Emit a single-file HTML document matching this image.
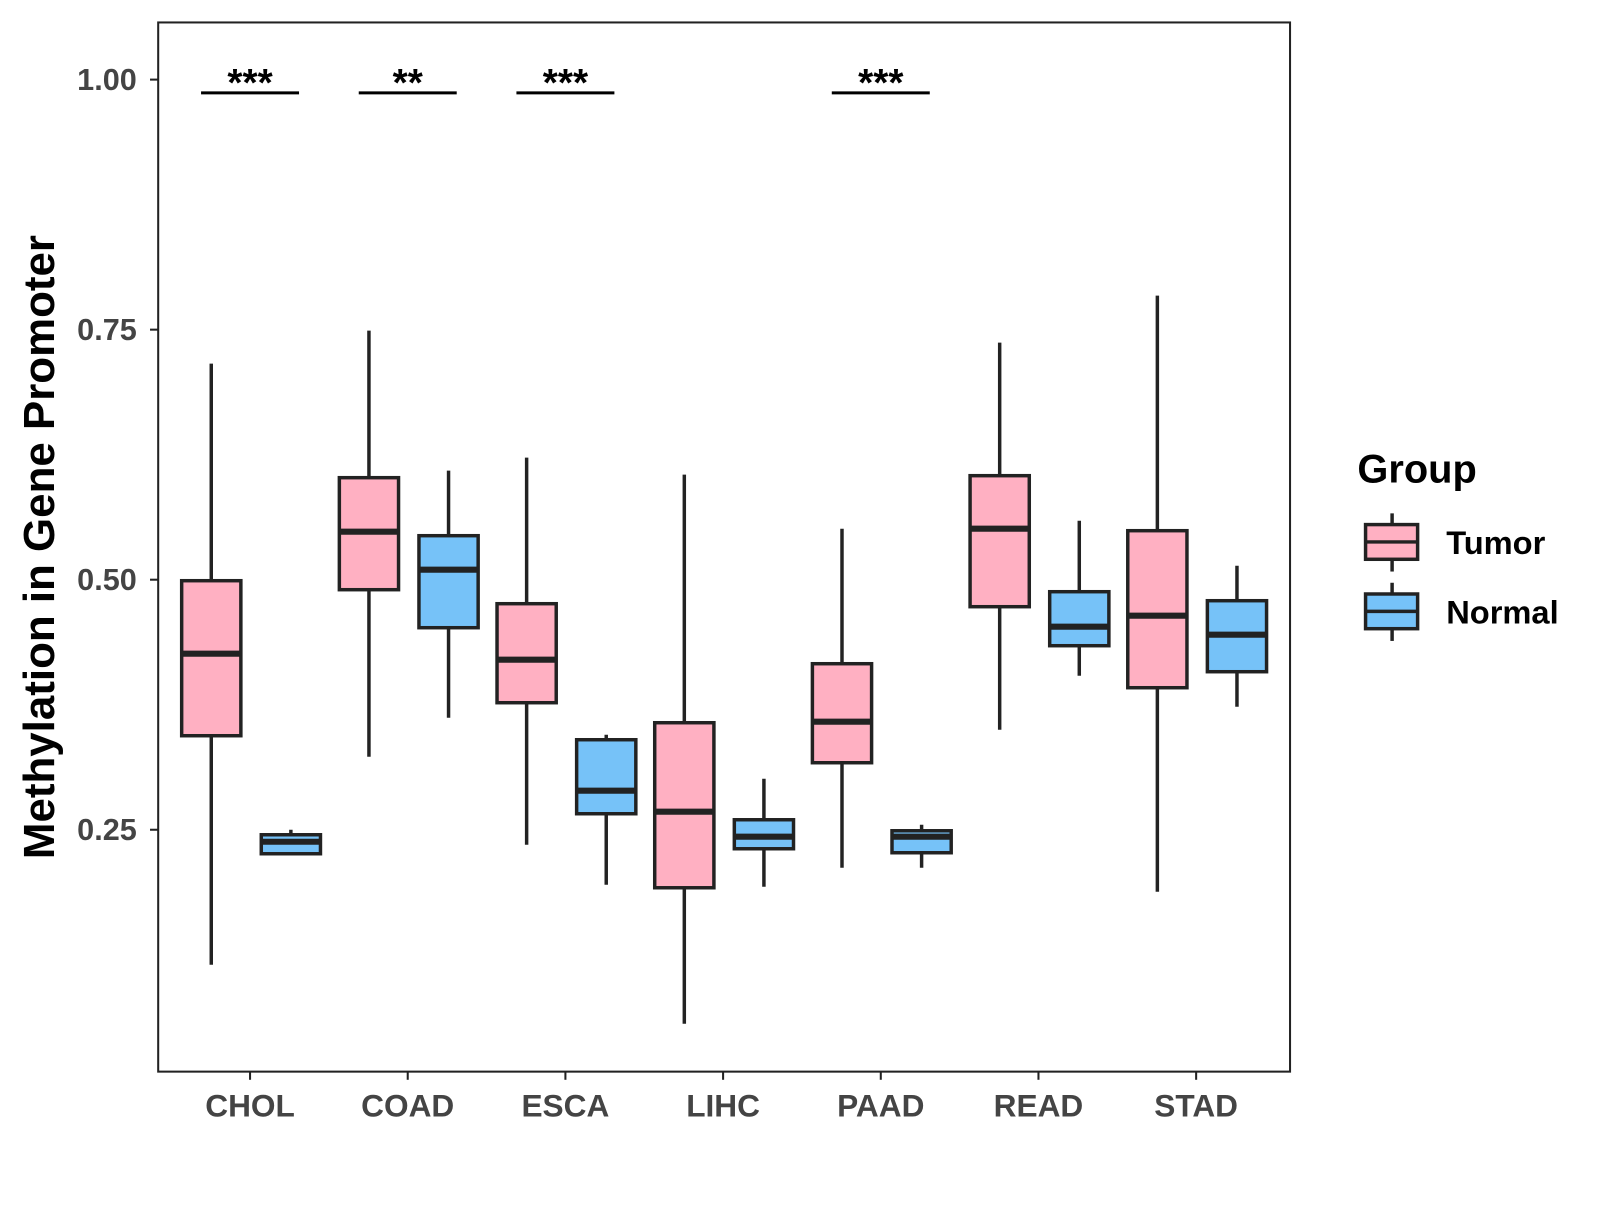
<!DOCTYPE html>
<html><head><meta charset="utf-8"><style>
body{margin:0;background:#fff;width:1600px;height:1200px;overflow:hidden}
text{font-family:"Liberation Sans",Arial,sans-serif;font-weight:bold}
</style></head><body>
<svg id="chart" width="1600" height="1200" xmlns="http://www.w3.org/2000/svg">
<g transform="scale(1.0206)">
<rect x="155" y="22" width="1109" height="1028" fill="#fff" stroke="#222" stroke-width="2"/>
<g id="marks"></g>
<text x="53" y="536" transform="rotate(-90 53 536)" text-anchor="middle" font-size="43" fill="#000">Methylation in Gene Promoter</text>
<g>
<text x="1330" y="473" font-size="39">Group</text>
<g>
<line x1="1364" y1="503" x2="1364" y2="560" stroke="#222" stroke-width="3.4"/>
<rect x="1338" y="514" width="51" height="34" fill="#FFB0C2" stroke="#222" stroke-width="3.4"/>
<line x1="1338" y1="531" x2="1389" y2="531" stroke="#222" stroke-width="3.4"/>
<text x="1417" y="543" font-size="32">Tumor</text></g>
<g>
<line x1="1364" y1="571" x2="1364" y2="628" stroke="#222" stroke-width="3.4"/>
<rect x="1338" y="582" width="51" height="34" fill="#76C2F8" stroke="#222" stroke-width="3.4"/>
<line x1="1338" y1="599" x2="1389" y2="599" stroke="#222" stroke-width="3.4"/>
<text x="1417" y="611" font-size="32">Normal</text></g>
</g>
</g>
</svg>
<script>
const categories=["CHOL","COAD","ESCA","LIHC","PAAD","READ","STAD"];
const tumorStats=[[0.115,0.344,0.426,0.499,0.716],[0.323,0.490,0.548,0.602,0.749],[0.235,0.377,0.420,0.476,0.622],[0.056,0.192,0.268,0.357,0.605],[0.212,0.317,0.358,0.416,0.551],[0.350,0.473,0.551,0.604,0.737],[0.188,0.392,0.464,0.549,0.784]];
const normalStats=[[0.226,0.226,0.238,0.245,0.250],[0.362,0.452,0.510,0.544,0.609],[0.195,0.266,0.289,0.340,0.345],[0.193,0.231,0.243,0.260,0.301],[0.212,0.227,0.243,0.249,0.255],[0.404,0.434,0.453,0.488,0.559],[0.373,0.408,0.445,0.479,0.514]];
const yTicks=[0.25,0.50,0.75,1.00];
const yTickLabels=["0.25","0.50","0.75","1.00"];
const sigLabels=["***","**","***","","***","",""];
const NS="http://www.w3.org/2000/svg";
const y=v=>78+(1-v)*980;
const x=i=>245+i*154.5;
const g=document.getElementById('marks');
function mk(tag,attrs,parent){const e=document.createElementNS(NS,tag);for(const k in attrs)e.setAttribute(k,attrs[k]);(parent||g).appendChild(e);return e;}
yTicks.forEach((t,i)=>{
  mk('line',{x1:147,x2:155,y1:y(t),y2:y(t),stroke:'#222','stroke-width':2});
  const tx=mk('text',{x:134,y:y(t)+10,'text-anchor':'end','font-size':30,fill:'#444'});
  tx.textContent=yTickLabels[i];
  
  
});
function box(cx,s,fill,name){
  const grp=mk('g',{});
  
  
  mk('line',{x1:cx,x2:cx,y1:y(s[0]),y2:y(s[4]),stroke:'#222','stroke-width':3.4},grp);
  mk('rect',{x:cx-29,y:y(s[3]),width:58,height:y(s[1])-y(s[3]),fill:fill,stroke:'#222','stroke-width':3.4},grp);
  mk('line',{x1:cx-29,x2:cx+29,y1:y(s[2]),y2:y(s[2]),stroke:'#222','stroke-width':6},grp);
}
categories.forEach((c,i)=>{
  const cx=x(i);
  mk('line',{x1:cx,x2:cx,y1:1050,y2:1058,stroke:'#222','stroke-width':2});
  const tx=mk('text',{x:cx,y:1094,'text-anchor':'middle','font-size':31,fill:'#444'});
  tx.textContent=c;
  
  
  box(cx-38,tumorStats[i],'#FFB0C2','box-tumor-'+c.toLowerCase());
  box(cx+40,normalStats[i],'#76C2F8','box-normal-'+c.toLowerCase());
  if(sigLabels[i]){
    const l=mk('line',{x1:cx-48,x2:cx+48,y1:91,y2:91,stroke:'#000','stroke-width':3});
    
    
    const st=mk('text',{x:cx,y:94,'text-anchor':'middle','font-size':38,fill:'#000'});
    st.textContent=sigLabels[i];
    
    
  }
});
</script>
</body></html>
